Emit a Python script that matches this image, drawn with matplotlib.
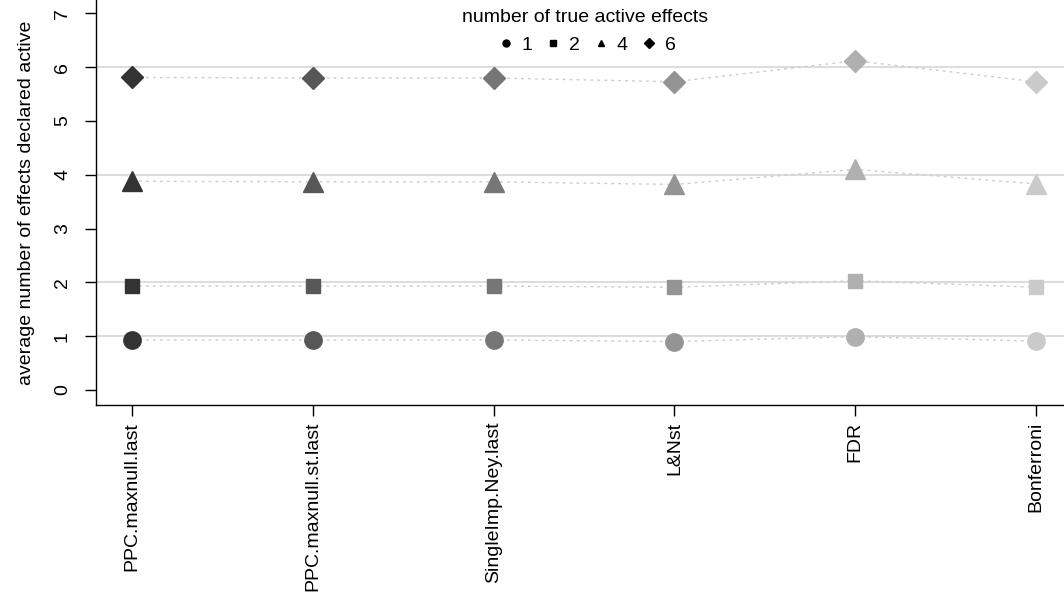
import matplotlib.pyplot as plt
from matplotlib.lines import Line2D

plt.rcParams['font.family'] = ['Liberation Sans', 'DejaVu Sans']

# methods on the x axis
methods = ["PPC.maxnull.last", "PPC.maxnull.st.last", "SingleImp.Ney.last",
           "L&Nst", "FDR", "Bonferroni"]

# average number of effects declared active, one list per number of true active effects
n_true = ["1", "2", "4", "6"]
avg_1 = [0.93, 0.93, 0.93, 0.90, 0.99, 0.91]
avg_2 = [1.93, 1.93, 1.93, 1.91, 2.03, 1.91]
avg_4 = [3.88, 3.87, 3.87, 3.82, 4.10, 3.83]
avg_6 = [5.81, 5.80, 5.80, 5.73, 6.12, 5.73]

series = [avg_1, avg_2, avg_4, avg_6]
markers = ['o', 's', '^', 'D']
msizes = [12.5, 10.5, 15, 11]
greys = ['#333333', '#575757', '#767676', '#949494', '#b0b0b0', '#cacaca']

fig = plt.figure(figsize=(10.64, 5.98), dpi=100)
ax = fig.add_axes([96 / 1064, 1 - 405 / 598, 1 - 96 / 1064, 405 / 598])

x = list(range(1, len(methods) + 1))

# reference lines at the true numbers
for v in [1, 2, 4, 6]:
    ax.axhline(v, color='#dddddd', lw=1.5, zorder=0)

for vals, m, ms in zip(series, markers, msizes):
    ax.plot(x, vals, color='#cccccc', lw=1, ls=(0, (2, 3)), zorder=1)
    for xi, yi, c in zip(x, vals, greys):
        ax.plot(xi, yi, marker=m, ms=ms, color=c, mec=c, ls='none', zorder=2)

ax.set_xlim(0.8, 6.155)
ax.set_ylim(-0.28, 7.25)
ax.set_yticks(range(0, 8))
ax.set_yticklabels([str(i) for i in range(0, 8)], rotation=90, va='center')
ax.set_xticks(x)
ax.set_xticklabels(methods, rotation=90, va='top')
ax.tick_params(axis='both', labelsize=14, length=8, width=1)
ax.tick_params(axis='x', pad=4)
ax.tick_params(axis='y', pad=10)
for s in ['top', 'right']:
    ax.spines[s].set_visible(False)
ax.spines['left'].set_linewidth(1)
ax.spines['bottom'].set_linewidth(1)

ax.set_ylabel("average number of effects declared active", fontsize=14, labelpad=14)

handles = [Line2D([], [], marker=m, color='black', ls='none', ms=5) for m in markers]
leg = ax.legend(handles, n_true, title="number of true active effects", ncol=4,
                loc='upper center', bbox_to_anchor=(0.505, 1.02), frameon=False,
                fontsize=14, title_fontsize=14, handletextpad=0.2,
                columnspacing=0.5, handlelength=1.2)

fig.savefig("out.png", dpi=100)
